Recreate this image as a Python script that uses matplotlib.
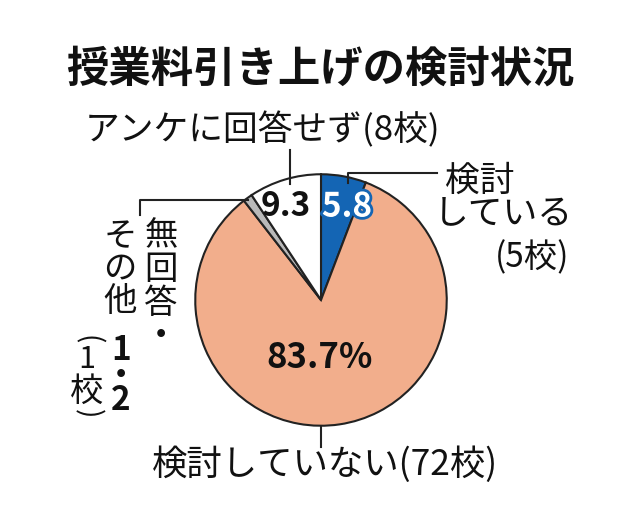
import matplotlib
matplotlib.use("Agg")
import matplotlib.pyplot as plt
from matplotlib.lines import Line2D
import matplotlib.patheffects as pe

plt.rcParams['font.family'] = ['Noto Sans CJK JP', 'DejaVu Sans']

title = "授業料引き上げの検討状況"
categories = ["検討している", "検討していない", "無回答・その他", "アンケに回答せず"]
values = [5.8, 83.7, 1.2, 9.3]
schools = [5, 72, 1, 8]
colors = ["#1465b4", "#f2ae8c", "#b9b9b9", "#ffffff"]

W, H = 639, 524
fig = plt.figure(figsize=(W / 100, H / 100), dpi=100)
fig.patch.set_facecolor("white")

def P(x, y):
    return x / W, 1 - y / H

def T(x, y, s, **kw):
    fx, fy = P(x, y)
    kw.setdefault("ha", "center")
    kw.setdefault("va", "center")
    kw.setdefault("color", "#111111")
    return fig.text(fx, fy, s, **kw)

def L(xs, ys):
    fig.add_artist(Line2D([x / W for x in xs], [1 - y / H for y in ys],
                          transform=fig.transFigure, color="#222222", lw=1.5))

# pie
cx, cy, r = 321, 300, 127
ax = fig.add_axes([(cx - r) / W, (H - cy - r) / H, 2 * r / W, 2 * r / H])
ax.pie(values, colors=colors, startangle=90, counterclock=False, radius=1,
       wedgeprops=dict(edgecolor="#222222", linewidth=1.5))
ax.set_xlim(-1.01, 1.01)
ax.set_ylim(-1.01, 1.01)
ax.set_aspect("equal")
ax.axis("off")

# title
T(320, 70, title, fontsize=30.5, fontweight="bold")

# labels inside pie
T(320, 357, f"{values[1]}%", fontsize=25, fontweight="bold")
T(286, 207, f"{values[3]}", fontsize=24, fontweight="bold")
T(347, 207, f"{values[0]}", fontsize=24, fontweight="bold", color="white",
  path_effects=[pe.withStroke(linewidth=4, foreground=colors[0])])

# top label
T(262, 130, f"{categories[3]}({schools[3]}校)", fontsize=25)
L([290, 290], [150, 184])

# right label
T(480, 181, "検討", fontsize=25)
T(503, 214, "している", fontsize=25)
T(532, 258, f"({schools[0]}校)", fontsize=24)
L([348, 348, 437], [183, 173, 173])

# bottom label
T(325, 465, f"{categories[1]}({schools[1]}校)", fontsize=25.5)
L([321, 321], [427, 447])

# left vertical label
L([140, 140, 248], [215, 200, 200])
for ch, y in zip("無回答", [236, 270, 303]):
    T(161, y, ch, fontsize=24)
T(161, 335, "•", fontsize=16, fontweight="bold", family="DejaVu Sans")
for ch, y in zip("その他", [236, 268, 302]):
    T(120, y, ch, fontsize=24)
T(121, 350, "1", fontsize=24, fontweight="bold")
T(121, 375, "•", fontsize=16, fontweight="bold", family="DejaVu Sans")
T(121, 400, "2", fontsize=24, fontweight="bold")
T(87, 340, "(", fontsize=20, rotation=-90)
T(87, 360, "1", fontsize=22)
T(87, 391, "校", fontsize=24)
T(87, 414, ")", fontsize=20, rotation=-90)

fig.savefig("out.png", dpi=100, facecolor="white")
